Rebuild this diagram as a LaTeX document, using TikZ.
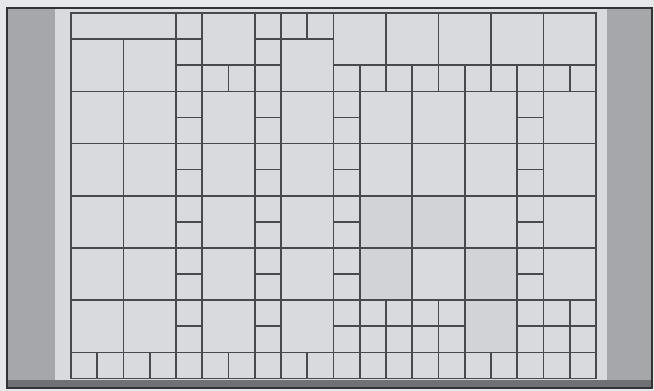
\documentclass[tikz,border=0pt]{standalone}
\usepackage{xcolor}
\definecolor{paperwhite}{RGB}{229,231,235}
\definecolor{bandgray}{RGB}{166,167,170}
\definecolor{bandshadow}{RGB}{112,113,116}
\definecolor{panelgray}{RGB}{217,218,221}
\definecolor{tintgray}{RGB}{210,211,215}
\definecolor{linegray}{RGB}{72,72,78}
\usepackage{tikz}

% cell lists: column/row of the top-left corner, in cell units
\def\widecells{0/0/4/1, 5/0/2/2, 8/1/2/2, 10/0/2/2, 12/0/2/2, 14/0/2/2, 16/0/2/2, 18/0/2/2}
\def\squarecells{0/1, 0/3, 0/5, 0/7, 0/9, 0/11, 2/1, 2/3, 2/5, 2/7, 2/9, 2/11,
  5/3, 5/5, 5/7, 5/9, 5/11, 8/3, 8/5, 8/7, 8/9, 8/11,
  11/3, 11/5, 13/3, 13/5, 13/9, 15/3, 15/5, 15/7, 18/3, 18/5, 18/7, 18/9}
\def\tintcells{11/7, 13/7, 11/9, 15/9, 15/11}

\begin{document}
\begin{tikzpicture}[x=1pt, y=-1pt,
      frameline/.style={draw=black!80, line width=1.2pt},
      cellline/.style={draw=linegray, line width=1.6pt, line cap=rect}
  ]
    \useasboundingbox (0,0) rectangle (654,391);

    % Board and panel
    \fill[paperwhite] (0,0) rectangle (654,391);
    \filldraw[frameline, fill=bandgray] (7,8) rectangle (652,388);
    \fill[bandshadow] (8,380) rectangle (651,387);
    \fill[panelgray] (55,9) rectangle (607,380);

    % Grid, in cell units
    \begin{scope}[shift={(71pt,-13pt)}, x=26.25pt, y=-26.1pt]
      \foreach \i in {0,...,20} \draw[cellline] (\i,0) -- (\i,14);
      \foreach \j in {0,...,14} \draw[cellline] (0,\j) -- (20,\j);

      % merged cells: clear the inner lines first
      \foreach \c/\r/\w/\h in \widecells \fill[panelgray] (\c,\r) rectangle ++(\w,\h);
      \foreach \c/\r in \squarecells \fill[panelgray] (\c,\r) rectangle ++(2,2);
      \foreach \c/\r in \tintcells \fill[tintgray] (\c,\r) rectangle ++(2,2);

      % then their borders
      \foreach \c/\r/\w/\h in \widecells \draw[cellline] (\c,\r) rectangle ++(\w,\h);
      \foreach \c/\r in \squarecells \draw[cellline] (\c,\r) rectangle ++(2,2);
      \foreach \c/\r in \tintcells \draw[cellline] (\c,\r) rectangle ++(2,2);
    \end{scope}
  \end{tikzpicture}
\end{document}
